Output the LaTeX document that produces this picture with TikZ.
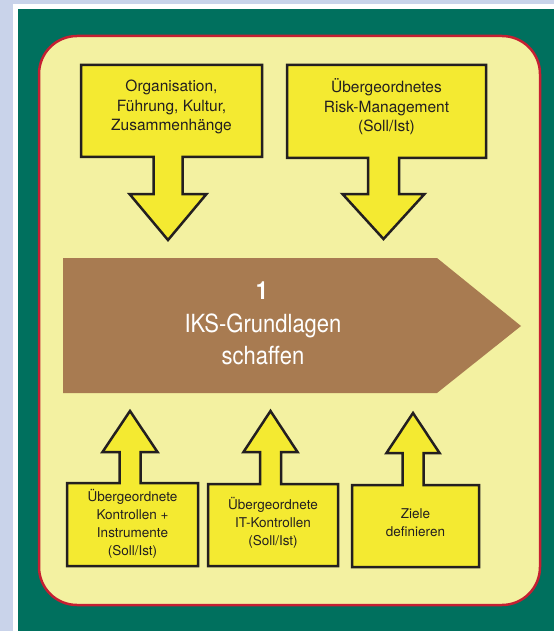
\documentclass[tikz,border=0pt]{standalone}
\usepackage{fontspec}
\setmainfont{TeX Gyre Heros}
\newfontfamily\condfont[FakeStretch=0.88]{TeX Gyre Heros}
\usetikzlibrary{calc}
\definecolor{bgblue}{HTML}{C9D3EA}
\definecolor{panelgreen}{HTML}{00705E}
\definecolor{lightyel}{HTML}{F3F1A1}
\definecolor{framered}{HTML}{C51F32}
\definecolor{brownarrow}{HTML}{A87B51}
\definecolor{boxyel}{HTML}{F4EA31}
\definecolor{darkline}{HTML}{231F20}
\newcommand{\downarrowbox}[6]{%
 \draw[arrowbox] (#1.north west) -- (#1.north east) -- (#1.south east)
  -- ($(#1.south)+({#2+#3},0)$) -- ($(#1.south)+({#2+#3},#5)$) -- ($(#1.south)+({#2+#4},#5)$)
  -- ($(#1.south)+(#2,#6)$) -- ($(#1.south)+({#2-#4},#5)$) -- ($(#1.south)+({#2-#3},#5)$)
  -- ($(#1.south)+({#2-#3},0)$) -- (#1.south west) -- cycle;}
\newcommand{\uparrowbox}[6]{%
 \draw[arrowbox] (#1.south west) -- (#1.south east) -- (#1.north east)
  -- ($(#1.north)+({#2+#3},0)$) -- ($(#1.north)+({#2+#3},-#5)$) -- ($(#1.north)+({#2+#4},-#5)$)
  -- ($(#1.north)+(#2,-#6)$) -- ($(#1.north)+({#2-#4},-#5)$) -- ($(#1.north)+({#2-#3},-#5)$)
  -- ($(#1.north)+({#2-#3},0)$) -- (#1.north west) -- cycle;}
\tikzset{
  arrowbox/.style={fill=boxyel, draw=darkline, line width=2.5pt, line join=miter},
  boxframe/.style={inner sep=0pt, outer sep=0pt},
  toptext/.style={align=center, text=darkline, font=\fontsize{15.5}{19.5}\selectfont, inner sep=0pt},
  bottext/.style={align=center, text=darkline, font=\fontsize{13.5}{18}\selectfont, inner sep=0pt},
  bigtext/.style={anchor=base, text=white, font=\condfont\fontsize{25}{28}\selectfont, inner sep=0pt}
}
\begin{document}
\begin{tikzpicture}[x=1pt,y=-1pt]
\useasboundingbox (0,0) rectangle (554,631);
\fill[bgblue] (0,0) rectangle (554,631);
\fill[white] (13,4) rectangle (554,631);
\fill[panelgreen] (18,9) rectangle (554,631);
\draw[framered, line width=2.5pt, fill=lightyel, rounded corners=38pt] (39,36) rectangle (540,605);
% big arrow
\fill[brownarrow] (63,258) -- (437,258) -- (521,326) -- (437,393) -- (63,393) -- cycle;
\node[bigtext] (n1) at (262,299) {\textbf{1}};
\node[bigtext] (n2) at (263,332) {IKS-Grundlagen};
\node[bigtext] (n3) at (263,364) {schaffen};
% top boxes
\node[boxframe, minimum width=181pt, minimum height=92pt] (tl) at (171.5,111) {};
\downarrowbox{tl}{-3.5}{14.5}{38.5}{37}{83}
\node[toptext] (tltext) at (171.5,107) {Organisation,\\Führung, Kultur,\\Zusammenhänge};
\node[boxframe, minimum width=199pt, minimum height=93pt] (tr) at (386.5,111.5) {};
\downarrowbox{tr}{-3}{15.5}{41}{36}{81}
\node[toptext] (trtext) at (386.5,107) {Übergeordnetes\\Risk-Management\\(Soll/Ist)};
% bottom boxes
\node[boxframe, minimum width=131pt, minimum height=83pt] (b1) at (132.5,524.5) {};
\uparrowbox{b1}{-2.5}{10.5}{27.5}{31}{72}
\node[bottext] (b1text) at (132.5,524) {Übergeordnete\\Kontrollen +\\Instrumente\\(Soll/Ist)};
\node[boxframe, minimum width=130pt, minimum height=82pt] (b2) at (273,525) {};
\uparrowbox{b2}{-2.5}{10.5}{27}{32}{73}
\node[bottext] (b2text) at (273,523) {Übergeordnete\\IT-Kontrollen\\(Soll/Ist)};
\node[boxframe, minimum width=127pt, minimum height=82pt] (b3) at (415.5,526) {};
\uparrowbox{b3}{-2.5}{10.5}{26.5}{32}{72}
\node[bottext] (b3text) at (415.5,523) {Ziele\\definieren};
\end{tikzpicture}
\end{document}
